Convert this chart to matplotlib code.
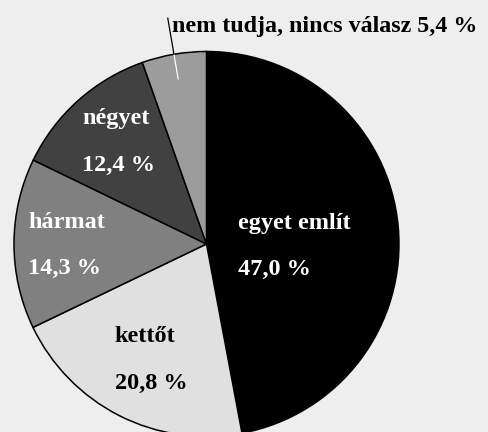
import matplotlib
matplotlib.use("Agg")
import matplotlib.pyplot as plt
import numpy as np

categories = ["egyet említ", "kettőt", "hármat", "négyet", "nem tudja, nincs válasz"]
values = [47.0, 20.8, 14.3, 12.4, 5.4]
pct_labels = ["47,0 %", "20,8 %", "14,3 %", "12,4 %", "5,4 %"]

colors = ["#000000", "#e0e0e0", "#808080", "#414141", "#9c9c9c"]
text_colors = ["white", "black", "white", "white", "black"]
label_r = [0.455, 0.653, 0.725, 0.71]
label_dang = [-4.8, 0.7, -0.6, -2.0]

FONT = ["Liberation Serif", "DejaVu Serif"]
FS = 17.5

fig = plt.figure(figsize=(4.89, 4.32), dpi=100)
fig.patch.set_facecolor("#eeeeee")
ax = fig.add_axes([0.0286, -0.0104, 0.7873, 0.8912])
wedges, _ = ax.pie(values, colors=colors, startangle=90, counterclock=False,
                   wedgeprops=dict(edgecolor="black", linewidth=1.1), radius=1)
ax.set_xlim(-1, 1)
ax.set_ylim(-1, 1)
ax.set_aspect("equal")
ax.axis("off")
for w in wedges:
    w.set_clip_on(False)

for i in range(4):
    w = wedges[i]
    ang = np.deg2rad((w.theta1 + w.theta2) / 2 + label_dang[i])
    x, y = label_r[i] * np.cos(ang), label_r[i] * np.sin(ang)
    ax.annotate(f"{categories[i]}\n{pct_labels[i]}", xy=(x, y), xytext=(0, -3),
                textcoords="offset pixels", ha="center", va="center",
                multialignment="left", linespacing=2.58, color=text_colors[i],
                fontsize=FS, fontweight="bold", family=FONT)

# leader for the small slice
w = wedges[4]
ang = np.deg2rad((w.theta1 + w.theta2) / 2)
c, s = np.cos(ang), np.sin(ang)
ax.plot([0.87 * c, 1.0 * c], [0.87 * s, 1.0 * s], color="white", lw=0.9, clip_on=False)
ax.plot([1.0 * c, 1.19 * c], [1.0 * s, 1.19 * s], color="black", lw=0.9, clip_on=False)
ax.annotate(f"{categories[4]} {pct_labels[4]}", xy=(1.19 * c, 1.19 * s),
            xytext=(4, -14), textcoords="offset pixels", ha="left", va="baseline",
            color="black", fontsize=17.3, fontweight="bold", family=FONT,
            annotation_clip=False)

fig.savefig("out.png", dpi=100, facecolor=fig.get_facecolor())
